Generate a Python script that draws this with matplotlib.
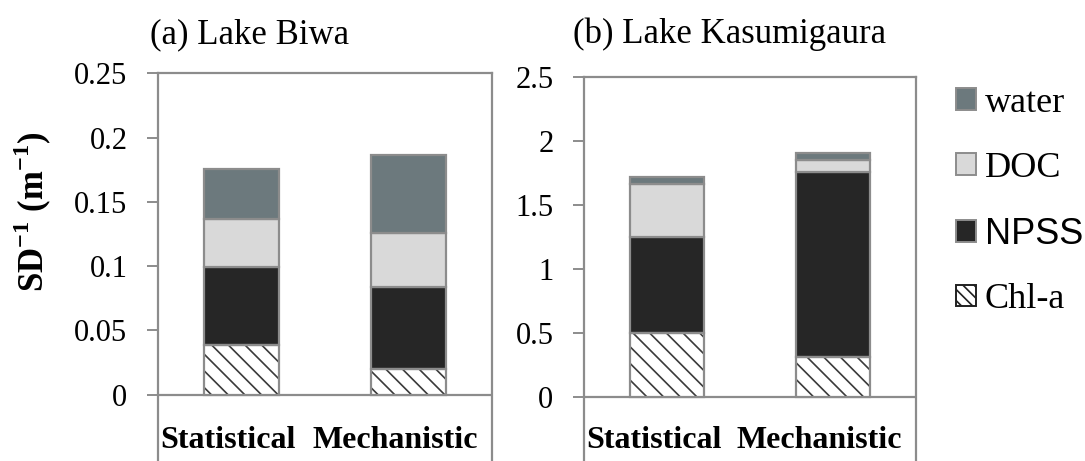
import matplotlib
matplotlib.use("Agg")
import matplotlib.pyplot as plt
from matplotlib.patches import Patch

plt.rcParams['font.family'] = ['Liberation Serif', 'DejaVu Serif']
plt.rcParams['mathtext.fontset'] = 'custom'
plt.rcParams['mathtext.rm'] = 'Liberation Serif'
plt.rcParams['mathtext.bf'] = 'Liberation Serif:bold'
plt.rcParams['hatch.linewidth'] = 1.2

# data
methods = ['Statistical', 'Mechanistic']
components = ['Chl-a', 'NPSS', 'DOC', 'water']

biwa_chl = [0.0385, 0.0196]
biwa_npss = [0.061, 0.0643]
biwa_doc = [0.037, 0.042]
biwa_water = [0.039, 0.0604]

kasu_chl = [0.495, 0.308]
kasu_npss = [0.755, 1.445]
kasu_doc = [0.412, 0.094]
kasu_water = [0.052, 0.053]

biwa_ticks = [0, 0.05, 0.1, 0.15, 0.2, 0.25]
biwa_ticklabels = ['0', '0.05', '0.1', '0.15', '0.2', '0.25']
kasu_ticks = [0, 0.5, 1, 1.5, 2, 2.5]
kasu_ticklabels = ['0', '0.5', '1', '1.5', '2', '2.5']

colors = {'Chl-a': 'white', 'NPSS': '#262626', 'DOC': '#d9d9d9', 'water': '#6c797d'}
edge = '#8c8c8c'

W, H = 1085, 461
fig = plt.figure(figsize=(W / 100, H / 100), dpi=100)


def px_axes(left, right, top, bottom=465):
    return fig.add_axes([left / W, 1 - bottom / H, (right - left) / W, (bottom - top) / H])


def draw_panel(ax, series, ymax, y0_px, ytop_px, ticks, ticklabels, title, title_x):
    bottom_px = 465
    scale = (y0_px - ytop_px) / ymax
    ax.set_ylim(-(bottom_px - y0_px) / scale, ymax)
    ax.set_xlim(-0.5, 1.5)
    x = [0, 1]
    base = [0.0, 0.0]
    for name, vals in zip(components, series):
        if name == 'Chl-a':
            # hatch drawn in dark grey, outline in the lighter bar-edge grey
            ax.bar(x, vals, 0.45, bottom=base, color='white', edgecolor='#3a3a3a',
                   hatch='\\\\', linewidth=0, zorder=2)
            ax.bar(x, vals, 0.45, bottom=base, fill=False, edgecolor=edge,
                   linewidth=1.6, zorder=3)
        else:
            ax.bar(x, vals, 0.45, bottom=base, color=colors[name], edgecolor=edge,
                   linewidth=1.6, zorder=2)
        base = [b + v for b, v in zip(base, vals)]

    ax.axhline(0, color=edge, lw=1.6, zorder=1)
    ax.set_yticks(ticks)
    ax.set_yticklabels(ticklabels, fontsize=22)
    ax.set_xticks([])
    ax.tick_params(axis='y', direction='out', length=8, width=1.4, color=edge, pad=14)
    for s in ['left', 'right', 'top']:
        ax.spines[s].set_color(edge)
        ax.spines[s].set_linewidth(1.6)
    ax.spines['bottom'].set_visible(False)

    for xi, m in zip(x, methods):
        ax.annotate(m, xy=(xi - 0.08, 0), xycoords=('data', 'axes fraction'),
                    xytext=(0, 7), textcoords='offset points',
                    ha='center', va='bottom', fontsize=23, fontweight='bold')

    fig.text(title_x / W, 1 - 43 / H, title, ha='left', va='baseline', fontsize=25)


ax1 = px_axes(158, 492, 73.3)
draw_panel(ax1, [biwa_chl, biwa_npss, biwa_doc, biwa_water], 0.25, 394.5, 73.3,
           biwa_ticks, biwa_ticklabels, '(a) Lake Biwa', 150)

ax2 = px_axes(584, 916, 76.7)
draw_panel(ax2, [kasu_chl, kasu_npss, kasu_doc, kasu_water], 2.5, 396.7, 76.7,
           kasu_ticks, kasu_ticklabels, '(b) Lake Kasumigaura', 573)

fig.text(33 / W, 1 - 212 / H, r'SD$^{\mathbf{-1}}$ (m$^{\mathbf{-1}}$)', rotation=90,
         ha='center', va='center', fontsize=25, fontweight='bold')

handles = []
for name in reversed(components):
    if name == 'Chl-a':
        handles.append(Patch(facecolor='white', edgecolor='#202020', hatch='\\\\\\', linewidth=1.4))
    else:
        handles.append(Patch(facecolor=colors[name], edgecolor=edge, linewidth=1.4))
leg = fig.legend(handles, list(reversed(components)), loc='upper left',
                 bbox_to_anchor=(956 / W, 1 - 87 / H), frameon=False, fontsize=26,
                 handlelength=0.55, handleheight=0.55, handletextpad=0.25,
                 labelspacing=0.88, borderpad=0, borderaxespad=0)
leg.get_texts()[2].set_family('Liberation Sans')

fig.savefig('out.png', dpi=100)
